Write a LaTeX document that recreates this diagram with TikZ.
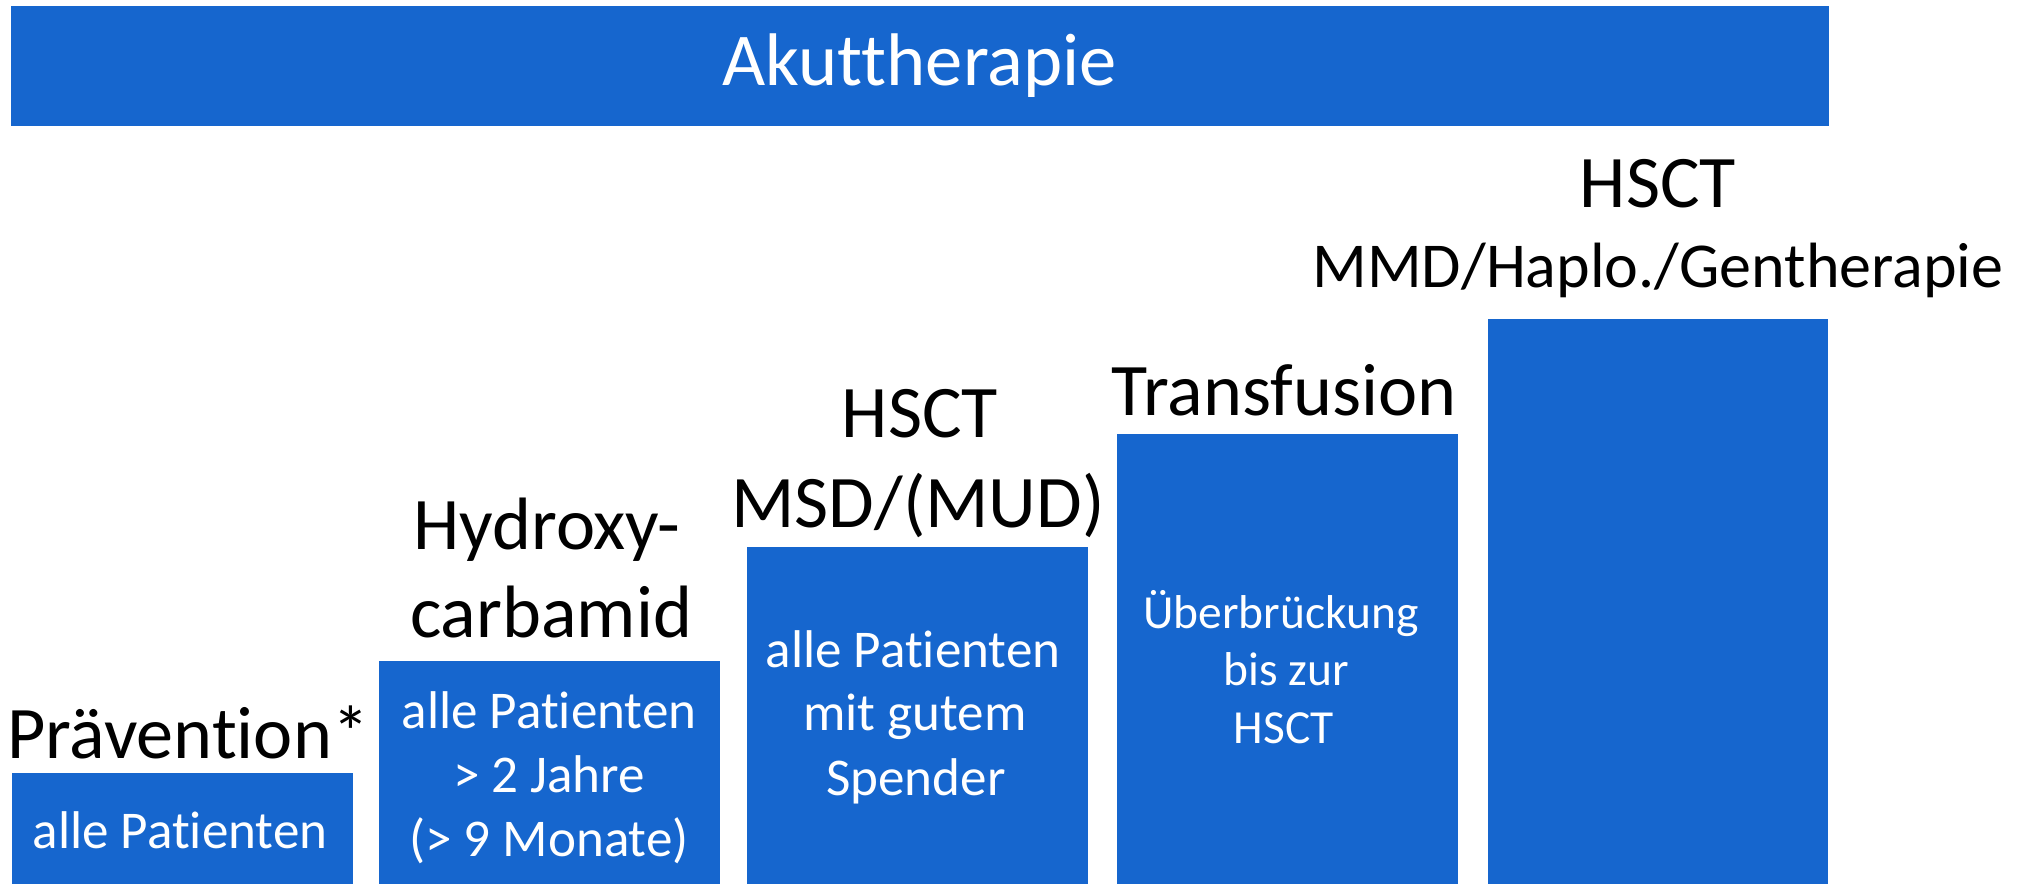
\documentclass[tikz,border=0pt]{standalone}
\usepackage{fontspec}
\setmainfont{Carlito}[Ligatures=NoCommon]
\definecolor{barblue}{RGB}{22,102,206}
\tikzset{
  bar/.style={fill=barblue, draw=none, inner sep=0pt, outer sep=0pt},
  blk/.style={text=black, inner sep=0pt, anchor=base, font=\fontsize{21.1pt}{25pt}\selectfont},
  blksmall/.style={text=black, inner sep=0pt, anchor=base, font=\fontsize{18.2pt}{22pt}\selectfont},
  ttl/.style={text=white, inner sep=0pt, anchor=base, font=\fontsize{21.2pt}{25pt}\selectfont},
  wht/.style={text=white, inner sep=0pt, anchor=base, font=\fontsize{15.1pt}{18pt}\selectfont},
  whtsmall/.style={text=white, inner sep=0pt, anchor=base, font=\fontsize{13.5pt}{16pt}\selectfont}
}
\begin{document}
\begin{tikzpicture}[x=0.01cm, y=-0.01cm]
\useasboundingbox (0,0) rectangle (2031,884);
% top bar
\node (top) [bar, minimum width=18.16cm, minimum height=1.20cm] at (920,66) {};
\node (toptext) [ttl] at (919.5,85) {Akuttherapie};
% boxes
\node (b1) [bar, minimum width=3.41cm, minimum height=1.11cm] at (182.5,828.5) {};
\node (b2) [bar, minimum width=3.41cm, minimum height=2.23cm] at (549.5,772.5) {};
\node (b3) [bar, minimum width=3.41cm, minimum height=3.37cm] at (917.5,715.5) {};
\node (b4) [bar, minimum width=3.41cm, minimum height=4.50cm] at (1287.5,659) {};
\node (b5) [bar, minimum width=3.40cm, minimum height=5.65cm] at (1658,601.5) {};
% labels above boxes
\node (l1) [blk] at (188,758) {Prävention*};
\node (l2a) [blk] at (547,549) {Hydroxy-};
\node (l2b) [blk] at (551,637) {carbamid};
\node (l3a) [blk] at (920,437) {HSCT};
\node (l3b) [blk] at (918,527) {MSD/(MUD)};
\node (l4) [blk] at (1284,415) {Transfusion};
\node (l5a) [blk] at (1658,207) {HSCT};
\node (l5b) [blksmall] at (1658,287) {MMD/Haplo./Gentherapie};
% texts inside boxes
\node (w1) [wht] at (180,848) {alle Patienten};
\node (w2a) [wht] at (549,728) {alle Patienten};
\node (w2b) [wht] at (549,792) {> 2 Jahre};
\node (w2c) [wht] at (549,856) {(> 9 Monate)};
\node (w3a) [wht] at (913,667) {alle Patienten};
\node (w3b) [wht] at (915,730) {mit gutem};
\node (w3c) [wht] at (916,795) {Spender};
\node (w4a) [whtsmall] at (1281,628) {Überbrückung};
\node (w4b) [whtsmall] at (1286,685) {bis zur};
\node (w4c) [whtsmall] at (1284,743) {HSCT};
\end{tikzpicture}
\end{document}
